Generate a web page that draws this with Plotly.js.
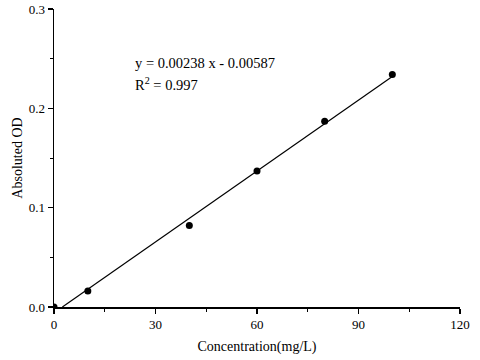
<!DOCTYPE html>
<html><head><meta charset="utf-8">
<script src="https://cdn.plot.ly/plotly-3.0.1.min.js"></script>
<style>html,body{margin:0;padding:0;background:#fff}</style>
</head><body><div id="chart" style="width:480px;height:360px"></div>
<script>
const concentration = [0, 10, 40, 60, 80, 100];
const absorbance = [0, 0.016, 0.082, 0.137, 0.187, 0.234];
const fitX = [2.47, 100];
const fitY = [0, 0.232];
const equationText = "y = 0.00238 x - 0.00587";
const r2Text = "R<sup>2</sup> = 0.997";

const font = {family: "Liberation Serif, Times New Roman, serif", color: "#000"};
const data = [
  {x: fitX, y: fitY, mode: "lines", line: {color: "#000", width: 1.2}, hoverinfo: "skip", cliponaxis: true},
  {x: concentration, y: absorbance, mode: "markers", marker: {color: "#000", size: 7}, cliponaxis: true}
];
const layout = {
  width: 480, height: 360,
  margin: {l: 54, r: 20, t: 9, b: 53},
  showlegend: false,
  paper_bgcolor: "#fff", plot_bgcolor: "#fff",
  font: Object.assign({size: 12}, font),
  xaxis: {
    range: [0, 120], tickvals: [0, 30, 60, 90, 120], ticktext: ["0","30","60","90","120"],
    showgrid: false, zeroline: false, showline: true, linecolor: "#000", linewidth: 1.5,
    ticks: "outside", ticklen: 5, tickwidth: 1.5, tickcolor: "#000",
    minor: {dtick: 15, tick0: 0, ticks: "outside", ticklen: 3, tickwidth: 1, tickcolor: "#000", showgrid: false},
    tickfont: Object.assign({size: 13}, font),
    title: {text: "Concentration(mg/L)", font: Object.assign({size: 14}, font), standoff: 10}
  },
  yaxis: {
    range: [0, 0.3], tickvals: [0, 0.1, 0.2, 0.3], ticktext: ["0.0","0.1","0.2","0.3"],
    showgrid: false, zeroline: false, showline: true, linecolor: "#000", linewidth: 1.5,
    ticks: "outside", ticklen: 5, tickwidth: 1.5, tickcolor: "#000",
    minor: {dtick: 0.05, tick0: 0, ticks: "outside", ticklen: 3, tickwidth: 1, tickcolor: "#000", showgrid: false},
    tickfont: Object.assign({size: 13}, font),
    title: {text: "Absoluted OD", font: Object.assign({size: 14}, font), standoff: 3}
  },
  annotations: [
    {xref: "paper", yref: "paper", x: 0.195, y: 0.785, xanchor: "left", yanchor: "bottom",
     text: equationText, showarrow: false, font: Object.assign({size: 14.5}, font)},
    {xref: "paper", yref: "paper", x: 0.195, y: 0.785, xanchor: "left", yanchor: "top",
     text: r2Text, showarrow: false, font: Object.assign({size: 14.5}, font)}
  ]
};
Plotly.newPlot("chart", data, layout, {displayModeBar: false, staticPlot: true});
</script></body></html>
